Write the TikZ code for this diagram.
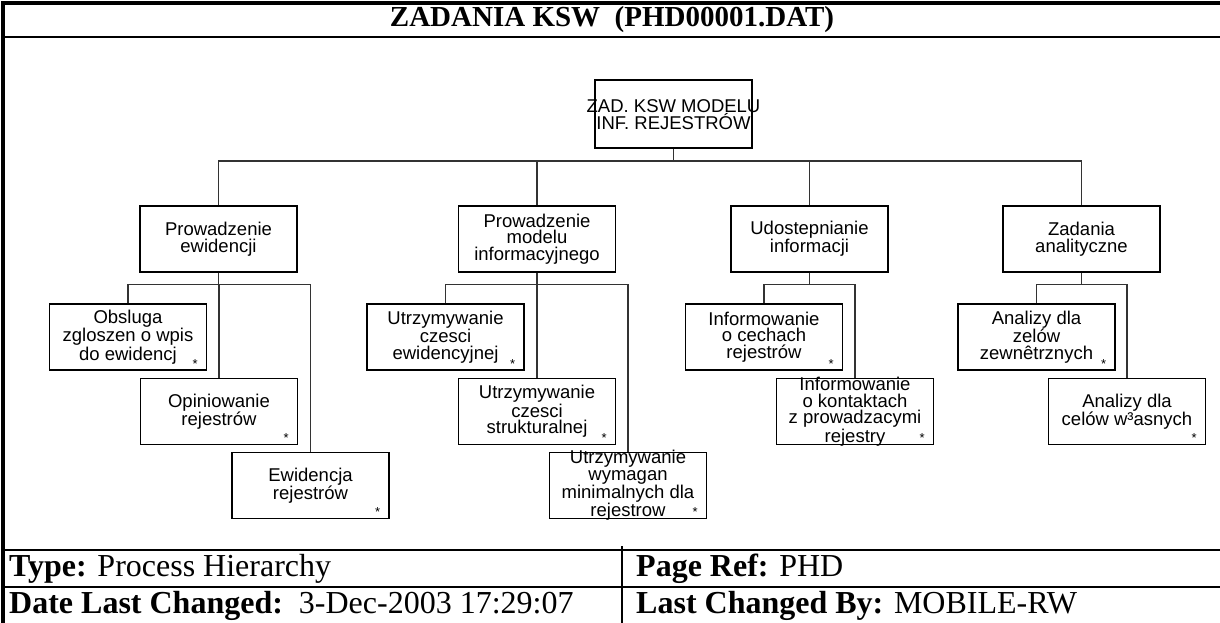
\documentclass[tikz,border=0pt]{standalone}
\usepackage{fontspec}
\setmainfont{Liberation Serif}
\newfontfamily\arialf{Liberation Sans}
\begin{document}
\begin{tikzpicture}[x=1pt,y=-1pt,
  bx/.style={draw=black, line width=1.2pt, minimum width=157pt, minimum height=66pt, inner sep=0pt},
  lbl/.style={font=\arialf\fontsize{18.5}{16.7}\selectfont, align=center, inner sep=0pt},
  starmark/.style={font=\arialf\fontsize{13}{13}\selectfont, inner sep=0pt},
  conn/.style={line width=1.2pt, draw=black!80},
  thickframe/.style={line width=4pt, line cap=rect},
  rule/.style={line width=2pt},
  foot/.style={font=\fontsize{32}{32}\selectfont, anchor=west, inner sep=0pt}]
\useasboundingbox[fill=white] (0,0) rectangle (1220,623);
% frame
\draw[thickframe] (3,623) -- (3,3) -- (1222,3);
\draw[rule] (3,37) -- (1220,37);
\draw[rule] (3,550) -- (1220,550);
\draw[rule] (3,587) -- (1220,587);
\draw[line width=1.2pt] (622,546) -- (622,623);
\node[font=\bfseries\fontsize{29}{29}\selectfont, inner sep=0pt] (title) at (612,20) {ZADANIA KSW\ \ (PHD00001.DAT)};
\node[foot] (f1) at (9,569) {\textbf{Type:} Process Hierarchy};
\node[foot] (f2) at (636,569) {\textbf{Page Ref:} PHD};
\node[foot] (f3) at (9,606) {\textbf{Date Last Changed:}\ \ 3-Dec-2003 17:29:07};
\node[foot] (f4) at (636,606) {\textbf{Last Changed By:} MOBILE-RW};
% boxes
\node[bx, minimum height=68pt] (top) at (673.5,114) {};
\node[lbl] (topt) at (673.5,114.5) {ZAD. KSW MODELU\\INF. REJESTRÓW};
\node[bx] (A) at (218.5,239) {};
\node[lbl] (At) at (A.center) {Prowadzenie\\ewidencji};
\node[bx] (B) at (537,239) {};
\node[lbl] (Bt) at (B.center) {Prowadzenie\\modelu\\informacyjnego};
\node[bx] (C) at (809.5,239) {};
\node[lbl] (Ct) at (C.center) {Udostepnianie\\informacji};
\node[bx] (D) at (1081.5,239) {};
\node[lbl] (Dt) at (D.center) {Zadania\\analityczne};
% level 2
\node[bx] (A1) at (128,337) {};
\node[lbl] (A1t) at (A1.center) {Obsluga\\zgloszen o wpis\\do ewidencj};
\node[bx] (A2) at (219,411.5) {};
\node[lbl] (A2t) at (A2.center) {Opiniowanie\\rejestrów};
\node[bx] (A3) at (310.5,485.5) {};
\node[lbl] (A3t) at (A3.center) {Ewidencja\\rejestrów};
\node[bx] (B1) at (445.5,337) {};
\node[lbl] (B1t) at (B1.center) {Utrzymywanie\\czesci\\ewidencyjnej};
\node[bx] (B2) at (537,411.5) {};
\node[lbl] (B2t) at (B2.center) {Utrzymywanie\\czesci\\strukturalnej};
\node[bx] (B3) at (628,485.5) {};
\node[lbl] (B3t) at (B3.center) {Utrzymywanie\\wymagan\\minimalnych dla\\rejestrow};
\node[bx] (C1) at (764,337) {};
\node[lbl] (C1t) at (C1.center) {Informowanie\\o cechach\\rejestrów};
\node[bx] (C2) at (855,411.5) {};
\node[lbl] (C2t) at (C2.center) {Informowanie\\o kontaktach\\z prowadzacymi\\rejestry};
\node[bx] (D1) at (1036.5,337) {};
\node[lbl] (D1t) at (D1.center) {Analizy dla\\zelów\\zewnêtrznych};
\node[bx] (D2) at (1127,411.5) {};
\node[lbl] (D2t) at (D2.center) {Analizy dla\\celów w³asnych};
% stars
\foreach \n in {A1,A2,A3,B1,B2,B3,C1,C2,D1,D2}
  \node[starmark] (\n s) at ([xshift=-12pt,yshift=7pt]\n.south east) {*};
% connectors
\coordinate (bus0) at (0,161);
\draw[conn] (top.south) -- (top.south |- bus0);
\draw[conn] (A.north) |- (D.north |- bus0) -- (D.north);
\draw[conn] (B.north) -- (B.north |- bus0);
\draw[conn] (C.north) -- (C.north |- bus0);
\coordinate (bus1) at (0,284.5);
\draw[conn] (A.south) -- (A.south |- bus1);
\draw[conn] (A1.north) |- (A3.north |- bus1) -- (A3.north);
\draw[conn] (A2.north) -- (A2.north |- bus1);
\draw[conn] (B.south) -- (B.south |- bus1);
\draw[conn] (B1.north) |- (B3.north |- bus1) -- (B3.north);
\draw[conn] (B2.north) -- (B2.north |- bus1);
\draw[conn] (C.south) -- (C.south |- bus1);
\draw[conn] (C1.north) |- (C2.north |- bus1) -- (C2.north);
\draw[conn] (D.south) -- (D.south |- bus1);
\draw[conn] (D1.north) |- (D2.north |- bus1) -- (D2.north);
\end{tikzpicture}
\end{document}
